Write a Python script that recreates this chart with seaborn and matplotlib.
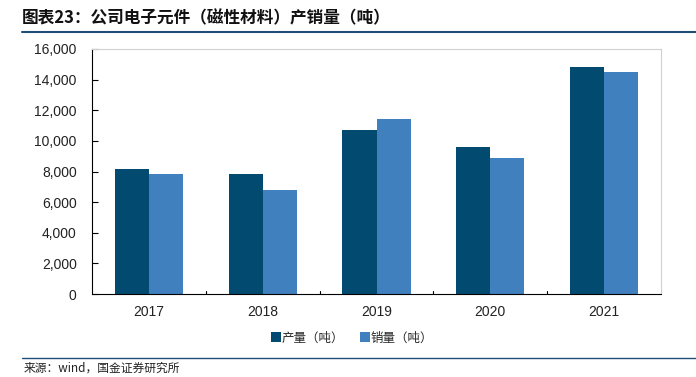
import matplotlib
matplotlib.use("Agg")
import matplotlib.pyplot as plt
import seaborn as sns
import pandas as pd
from matplotlib.lines import Line2D
from matplotlib.patches import Patch
from matplotlib.ticker import FuncFormatter, FixedLocator

years = ["2017", "2018", "2019", "2020", "2021"]
production = [8150, 7850, 10720, 9620, 14800]
sales = [7850, 6800, 11440, 8900, 14520]
series_names = ["产量（吨）", "销量（吨）"]
colors = ["#024A70", "#4180BE"]

sns.set_theme(style="white")
plt.rcParams['font.family'] = ['Noto Sans CJK SC', 'DejaVu Sans']

df = pd.DataFrame({
    "year": years * 2,
    "value": production + sales,
    "series": [series_names[0]] * len(years) + [series_names[1]] * len(years),
})

fig = plt.figure(figsize=(6.96, 3.77), dpi=100)
ax = fig.add_axes([92 / 696, 1 - 294 / 377, (661 - 92) / 696, (294 - 49) / 377])

sns.barplot(data=df, x="year", y="value", hue="series", palette=colors,
            width=0.6, gap=0, saturation=1, ax=ax, legend=False, edgecolor="none")

ax.set_ylim(0, 16000)
ax.set_xlim(-0.5, len(years) - 0.5)
ax.yaxis.set_major_locator(FixedLocator(range(0, 16001, 2000)))
ax.yaxis.set_major_formatter(FuncFormatter(lambda v, p: f"{int(v):,}"))
ax.set_xlabel("")
ax.set_ylabel("")

for s in ["left", "bottom"]:
    ax.spines[s].set_color("#000000")
    ax.spines[s].set_linewidth(0.8)
for s in ["top", "right"]:
    ax.spines[s].set_color("#D0D0D0")
    ax.spines[s].set_linewidth(0.8)

ax.tick_params(axis="y", direction="in", length=4, width=0.8, color="black",
               labelsize=10, pad=11, left=True)
ax.tick_params(axis="x", length=0, labelsize=10, pad=8)
for lab in ax.get_yticklabels() + ax.get_xticklabels():
    lab.set_family(['Liberation Sans', 'DejaVu Sans'])
    lab.set_color("#222222")

# x ticks between categories
for xb in [0.5, 1.5, 2.5, 3.5]:
    ax.plot([xb, xb], [0, 200], color="black", lw=0.8, clip_on=False)

# legend
handles = [Patch(facecolor=c, edgecolor="none") for c in colors]
fig.legend(handles, series_names, loc="center", bbox_to_anchor=(352 / 696, 1 - 338 / 377),
           ncol=2, frameon=False, fontsize=9, handlelength=0.8, handleheight=0.8,
           handletextpad=0.1, columnspacing=1.2)

# title and lines
fig.text(22 / 696, 1 - 18 / 377, "图表23：公司电子元件（磁性材料）产销量（吨）",
         fontsize=12, fontweight="bold", style="italic", color="#111111",
         va="center", ha="left")
fig.add_artist(Line2D([22 / 696, 1.0], [1 - 32 / 377, 1 - 32 / 377],
                      color="#1F4E79", lw=1.5))
fig.add_artist(Line2D([22 / 696, 1.0], [1 - 358 / 377, 1 - 358 / 377],
                      color="#1F4E79", lw=1.0))
fig.text(24 / 696, 1 - 368 / 377, "来源：wind，国金证券研究所",
         fontsize=8.5, color="#222222", va="center", ha="left")

fig.savefig("out.png", dpi=100)
